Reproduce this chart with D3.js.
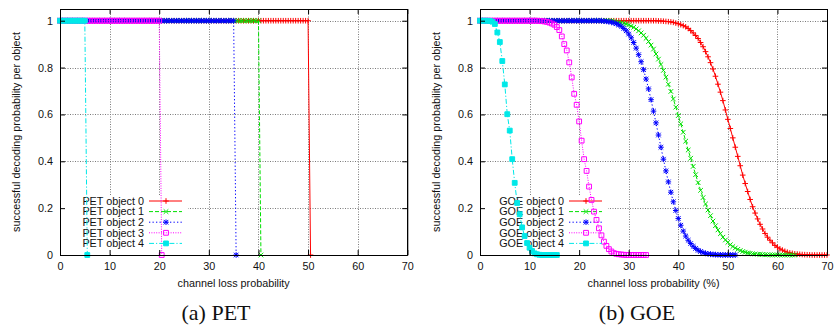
<!DOCTYPE html>
<html><head><meta charset="utf-8">
<script src="https://cdn.jsdelivr.net/npm/d3@7/dist/d3.min.js"></script>
<style>body{margin:0;background:#fff;} svg{display:block;}</style>
</head><body>
<svg id="c" width="835" height="326"></svg>
<script>
// ---------- data ----------
const xStep = 0.5;                       // sampling step of the loss probability (%)
const xTicks = [0, 10, 20, 30, 40, 50, 60, 70];
const yTicks = [0, 0.2, 0.4, 0.6, 0.8, 1];
const objectNames = ["object 0", "object 1", "object 2", "object 3", "object 4"];

const petObj0 = [
1,1,1,1,1,1,1,1,1,1, 1,1,1,1,1,1,1,1,1,1, 1,1,1,1,1,1,1,1,1,1, 1,1,1,1,1,1,1,1,1,1,
1,1,1,1,1,1,1,1,1,1, 1,1,1,1,1,1,1,1,1,1, 1,1,1,1,1,1,1,1,1,1, 1,1,1,1,1,1,1,1,1,1,
1,1,1,1,1,1,1,1,1,1, 1,1,1,1,1,1,1,1,1,1, 1,0];
const petObj1 = [
1,1,1,1,1,1,1,1,1,1, 1,1,1,1,1,1,1,1,1,1, 1,1,1,1,1,1,1,1,1,1, 1,1,1,1,1,1,1,1,1,1,
1,1,1,1,1,1,1,1,1,1, 1,1,1,1,1,1,1,1,1,1, 1,1,1,1,1,1,1,1,1,1, 1,1,1,1,1,1,1,1,1,1,
1,0];
const petObj2 = [
1,1,1,1,1,1,1,1,1,1, 1,1,1,1,1,1,1,1,1,1, 1,1,1,1,1,1,1,1,1,1, 1,1,1,1,1,1,1,1,1,1,
1,1,1,1,1,1,1,1,1,1, 1,1,1,1,1,1,1,1,1,1, 1,1,1,1,1,1,1,1,1,1, 1,0];
const petObj3 = [
1,1,1,1,1,1,1,1,1,1, 1,1,1,1,1,1,1,1,1,1, 1,1,1,1,1,1,1,1,1,1, 1,1,1,1,1,1,1,1,1,1,
1,0];
const petObj4 = [1,1,1,1,1,1,1,1,1,1, 1,0];

const goeObj0 = [
1,1,1,1,1,1,1,1,1,1, 1,1,1,1,1,1,1,1,1,1, 1,1,1,1,1,1,1,1,1,1, 1,1,1,1,1,1,1,1,1,1,
1,1,1,1,1,1,1,1,1,1, 1,1,1,1,1,1,1,1,1,1, 1,1,1,1,1,1,1,1,1,1, 1,1,
0.999,0.999,0.998,0.997,0.996,0.995,0.993,0.990,0.987,0.983,
0.979,0.974,0.967,0.958,0.948,0.937,0.924,0.907,0.889,0.868,
0.846,0.821,0.794,0.763,0.729,0.695,0.659,0.619,0.579,0.540,
0.500,0.460,0.421,0.381,0.341,0.305,0.271,0.237,0.206,0.179,
0.154,0.131,0.111,0.092,0.076,0.063,0.052,0.041,0.033,0.026,
0.021,0.016,0.012,0.009,0.007,0.005,0.004,0.003,0.002,0.0015,
0.001,0.0005,0,0,0,0,0,0,0];
const goeObj1 = [
1,1,1,1,1,1,1,1,1,1, 1,1,1,1,1,1,1,1,1,1, 1,1,1,1,1,1,1,1,1,1, 1,1,1,1,1,1,1,1,1,1,
1,1,1,1,1,1,1,1,1,1, 1,1,1,1,
0.996,0.995,0.993,0.991,0.989,0.986,0.982,0.977,0.972,0.965,
0.957,0.948,0.938,0.925,0.911,0.896,0.879,0.858,0.836,0.813,
0.788,0.759,0.729,0.698,0.666,0.631,0.595,0.560,0.524,0.486,
0.448,0.413,0.378,0.343,0.309,0.276,0.245,0.218,0.192,0.168,
0.145,0.125,0.107,0.091,0.076,0.064,0.054,0.044,0.036,0.030,
0.024,0.019,0.015,0.012,0.009,0.007,0.0055,0.004,0.003,0.0025,
0.002,0.0014,0.001,0.0007,0.0005,0.0004,0.0003,0,0,0,
0,0,0,0];
const goeObj2 = [
1,1,1,1,1,1,1,1,1,1, 1,1,1,1,1,1,1,1,1,1, 1,1,1,1,1,1,1,1,1,1, 1,1,1,1,1,1,1,1,1,1,
1,1,1,1,1,1,1,1,1,1,
0.998,0.997,0.996,0.994,0.991,0.987,0.982,0.976,0.967,0.957,
0.943,0.927,0.907,0.883,0.855,0.825,0.791,0.751,0.709,0.663,
0.614,0.564,0.512,0.460,0.409,0.359,0.312,0.268,0.227,0.190,
0.156,0.127,0.102,0.081,0.063,0.049,0.037,0.028,0.020,0.015,
0.010,0.007,0.005,0.0035,0.0023,0.0015,0.001,0.0006,0.0004,0.0002,
0,0,0,0];
const goeObj3 = [
1,1,1,1,1,1,1,1,1,1, 1,1,1,1,1,1,1,1,1,1, 1,1,1,1,
0.999,0.998,0.997,0.995,0.992,0.988,0.983,0.973,0.960,0.933,
0.900,0.873,0.822,0.758,0.688,0.641,0.570,0.488,0.409,0.359,
0.292,0.235,0.185,0.150,0.114,0.084,0.057,0.039,0.025,0.015,
0.008,0.005,0.003,0.002,0.001,0,0,0,0,0,
0,0,0,0];
const goeObj4 = [
1,1,1,1,0.999,0.996,0.986,0.950,0.909,0.828,
0.728,0.601,0.531,0.409,0.308,0.222,0.174,0.118,0.081,0.051,
0.031,0.017,0.007,0.003,0.001,0,0,0,0,0,
0,0];

// ---------- styles ----------
const colors = ["#ff0000", "#00e000", "#0000ff", "#ff00ff", "#00e8e8"];
const dashes = [null, "4,2", "1.3,2.2", "1,1.4", "5,2,1.2,2"];
const markerTypes = ["plus", "cross", "star", "square", "fsquare"];
const SANS = "'Liberation Sans', Arial, Helvetica, sans-serif";

const svg = d3.select("#c");

function markerPath(t) {
  const s = 2.8, c = 2.3, q = 2.4;
  if (t === "plus") return `M${-s},0H${s}M0,${-s}V${s}`;
  if (t === "cross") return `M${-c},${-c}L${c},${c}M${-c},${c}L${c},${-c}`;
  if (t === "star") return `M${-s},0H${s}M0,${-s}V${s}M${-c},${-c}L${c},${c}M${-c},${c}L${c},${-c}`;
  return `M${-q},${-q}H${q}V${q}H${-q}Z`;
}

function panel(cfg) {
  const { left, right, top, bottom, series, prefix, xlabel, caption, capX } = cfg;
  const x = d3.scaleLinear().domain([0, 70]).range([left, right]);
  const y = d3.scaleLinear().domain([0, 1.05]).range([bottom, top]);
  const g = svg.append("g");

  // grid
  const grid = g.append("g").attr("stroke", "#7a7a7a").attr("stroke-width", 1)
    .attr("stroke-dasharray", "1,1.5");
  grid.selectAll(".gx").data(xTicks.filter(t => t > 0 && t < 70)).join("line")
    .attr("x1", d => Math.round(x(d)) + 0.5).attr("x2", d => Math.round(x(d)) + 0.5)
    .attr("y1", top).attr("y2", bottom);
  grid.selectAll(".gy").data(yTicks.filter(t => t > 0)).join("line")
    .attr("y1", d => Math.round(y(d)) + 0.5).attr("y2", d => Math.round(y(d)) + 0.5)
    .attr("x1", left).attr("x2", right);

  // opaque key box
  g.append("rect").attr("x", left + 1).attr("y", bottom - 60)
    .attr("width", 127).attr("height", 58).attr("fill", "#fff");

  const line = d3.line().x(d => x(d[0])).y(d => y(d[1]));

  series.forEach((vals, i) => {
    const col = colors[i];
    // key entry
    const ky = bottom - 54 + i * 10.6;
    g.append("text").attr("x", left + 84).attr("y", ky).attr("dy", "0.35em")
      .attr("text-anchor", "end").attr("font-family", SANS).attr("font-size", 10.8)
      .attr("fill", "#111").text(prefix + " " + objectNames[i]);
    g.append("line").attr("x1", left + 89).attr("x2", left + 122)
      .attr("y1", ky).attr("y2", ky).attr("stroke", col).attr("stroke-width", 1)
      .attr("stroke-dasharray", dashes[i]);
    g.append("path").attr("d", markerPath(markerTypes[i]))
      .attr("transform", `translate(${left + 106},${ky})`)
      .attr("stroke", col).attr("stroke-width", 1)
      .attr("fill", markerTypes[i] === "fsquare" ? col : "none");

    // curve
    const pts = vals.map((v, j) => [j * xStep, v]);
    g.append("path").datum(pts).attr("d", line).attr("fill", "none")
      .attr("stroke", col).attr("stroke-width", 1).attr("stroke-dasharray", dashes[i]);
    g.append("g").selectAll("path").data(pts).join("path")
      .attr("d", markerPath(markerTypes[i]))
      .attr("transform", d => `translate(${x(d[0])},${y(d[1])})`)
      .attr("stroke", col).attr("stroke-width", 1)
      .attr("fill", markerTypes[i] === "fsquare" ? col : "none");
  });

  // axes / frame
  const fmtY = d => (d === 0 ? "0" : d === 1 ? "1" : d3.format(".1f")(d));
  const styleAxis = sel => {
    sel.attr("font-family", SANS).attr("font-size", 10.8);
    sel.selectAll("text").attr("fill", "#111");
    sel.selectAll("path,line").attr("stroke", "#000");
  };
  g.append("g").attr("transform", `translate(0,${bottom})`)
    .call(d3.axisBottom(x).tickValues(xTicks).tickSizeInner(-5).tickSizeOuter(0).tickPadding(7))
    .call(styleAxis);
  g.append("g").attr("transform", `translate(0,${top})`)
    .call(d3.axisTop(x).tickValues(xTicks).tickSizeInner(-5).tickSizeOuter(0).tickFormat(""))
    .call(styleAxis);
  g.append("g").attr("transform", `translate(${left},0)`)
    .call(d3.axisLeft(y).tickValues(yTicks).tickSizeInner(-5).tickSizeOuter(0).tickPadding(7).tickFormat(fmtY))
    .call(styleAxis);
  g.append("g").attr("transform", `translate(${right},0)`)
    .call(d3.axisRight(y).tickValues(yTicks).tickSizeInner(-5).tickSizeOuter(0).tickFormat(""))
    .call(styleAxis);
  // y from 0 to domain top for left/right frame lines
  g.append("line").attr("x1", Math.round(left) + 0.5).attr("x2", Math.round(left) + 0.5)
    .attr("y1", top).attr("y2", bottom).attr("stroke", "#000");
  g.append("line").attr("x1", Math.round(right) + 0.5).attr("x2", Math.round(right) + 0.5)
    .attr("y1", top).attr("y2", bottom).attr("stroke", "#000");

  // labels
  g.append("text").attr("x", (left + right) / 2).attr("y", 287)
    .attr("text-anchor", "middle").attr("font-family", SANS).attr("font-size", 10.8)
    .attr("fill", "#111").text(xlabel);
  g.append("text").attr("transform", `translate(${left - 44},${(top + bottom) / 2}) rotate(-90)`)
    .attr("text-anchor", "middle").attr("dy", "0.35em").attr("font-family", SANS)
    .attr("font-size", 10.8).attr("fill", "#111")
    .text("successful decoding probability per object");
  g.append("text").attr("x", capX).attr("y", 320).attr("text-anchor", "middle")
    .attr("font-family", "'Liberation Serif', 'Times New Roman', serif").attr("font-size", 22)
    .attr("fill", "#111").text(caption);
}

panel({ left: 60, right: 407.3, top: 9, bottom: 255,
  series: [petObj0, petObj1, petObj2, petObj3, petObj4], prefix: "PET",
  xlabel: "channel loss probability", caption: "(a) PET", capX: 216 });
panel({ left: 480, right: 827, top: 9, bottom: 255,
  series: [goeObj0, goeObj1, goeObj2, goeObj3, goeObj4], prefix: "GOE",
  xlabel: "channel loss probability (%)", caption: "(b) GOE", capX: 637 });
</script>
</body></html>
